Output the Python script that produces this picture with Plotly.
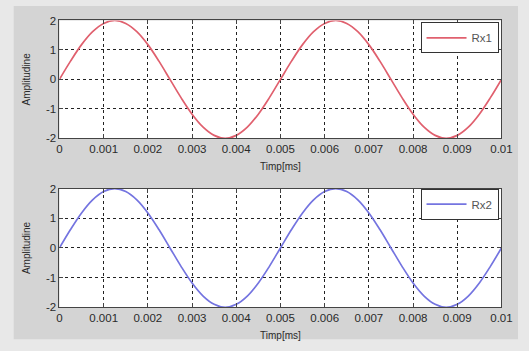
import plotly.graph_objects as go

# time samples [ms] and amplitudes
t = [i * 0.00025 for i in range(41)]
rx1 = [0, 0.62, 1.18, 1.62, 1.9, 2, 1.9, 1.62, 1.18, 0.62,
       0, -0.62, -1.18, -1.62, -1.9, -2, -1.9, -1.62, -1.18, -0.62,
       0, 0.62, 1.18, 1.62, 1.9, 2, 1.9, 1.62, 1.18, 0.62,
       0, -0.62, -1.18, -1.62, -1.9, -2, -1.9, -1.62, -1.18, -0.62, 0]
rx2 = [0, 0.62, 1.18, 1.62, 1.9, 2, 1.9, 1.62, 1.18, 0.62,
       0, -0.62, -1.18, -1.62, -1.9, -2, -1.9, -1.62, -1.18, -0.62,
       0, 0.62, 1.18, 1.62, 1.9, 2, 1.9, 1.62, 1.18, 0.62,
       0, -0.62, -1.18, -1.62, -1.9, -2, -1.9, -1.62, -1.18, -0.62, 0]
xticks = [0, 0.001, 0.002, 0.003, 0.004, 0.005, 0.006, 0.007, 0.008, 0.009, 0.01]
xticklabels = ["0", "0.001", "0.002", "0.003", "0.004", "0.005", "0.006", "0.007", "0.008", "0.009", "0.01"]
yticks = [-2, -1, 0, 1, 2]
yticklabels = ["-2", "-1", "0", "1", "2"]

W, H = 529, 351
fig = go.Figure()
fig.add_trace(go.Scatter(x=t, y=rx1, mode="lines", name="Rx1", line=dict(color="#e0606e", width=1.7, shape="spline"),
                         xaxis="x", yaxis="y", legend="legend", showlegend=True))
fig.add_trace(go.Scatter(x=t, y=rx2, mode="lines", name="Rx2", line=dict(color="#7474e0", width=1.7, shape="spline"),
                         xaxis="x2", yaxis="y2", legend="legend2", showlegend=True))

fam = "Liberation Sans, Arial, sans-serif"
tickfont = dict(family=fam, size=11.5, color="#2a2a2a")
titlefont = dict(family=fam, size=10, color="#2a2a2a")
xd = [58 / W, 512 / W]
yd1 = [1 - 137 / H, 1 - 15 / H]
yd2 = [1 - 312 / H, 1 - 189 / H]
def xa(anchor):
    return dict(domain=xd, anchor=anchor, range=[0, 0.01], tickvals=xticks, ticktext=xticklabels,
                showgrid=True, gridcolor="#222222", griddash="dot", gridwidth=1,
                showline=True, linecolor="#444444", linewidth=1, mirror="ticks",
                ticks="inside", ticklen=4, tickcolor="#444444", zeroline=False,
                tickfont=tickfont,
                title=dict(text="Timp[ms]", font=titlefont, standoff=8))
def ya(anchor, dom):
    return dict(domain=dom, anchor=anchor, range=[-2, 2], tickvals=yticks, ticktext=yticklabels,
                showgrid=True, gridcolor="#222222", griddash="dot", gridwidth=1,
                showline=True, linecolor="#444444", linewidth=1, mirror="ticks",
                ticks="inside", ticklen=4, tickcolor="#444444", zeroline=False,
                tickfont=tickfont,
                title=dict(text="Amplitudine", font=titlefont, standoff=13))

leg = dict(bgcolor="white", bordercolor="#333333", borderwidth=1, xanchor="right", yanchor="top",
           font=dict(family=fam, size=11.5, color="#555555"), itemwidth=40,
           tracegroupgap=0)
shapes = [dict(type="rect", xref="paper", yref="paper", x0=11 / W, x1=1, y0=1 - 345 / H, y1=1,
               fillcolor="#d4d4d4", line=dict(width=0), layer="below")]
for yd in (yd1, yd2):
    shapes.append(dict(type="rect", xref="paper", yref="paper", x0=xd[0], x1=xd[1], y0=yd[0], y1=yd[1],
                       fillcolor="white", line=dict(width=0), layer="below"))
fig.update_layout(
    width=W, height=H, margin=dict(l=0, r=0, t=0, b=0), showlegend=True,
    paper_bgcolor="#e8e8e8", plot_bgcolor="white", font=dict(family=fam, size=11, color="#2a2a2a"),
    xaxis=xa("y"), yaxis=ya("x", yd1),
    xaxis2=xa("y2"), yaxis2=ya("x2", yd2),
    legend=dict(leg, x=509 / W, y=1 - 17 / H),
    legend2=dict(leg, x=509 / W, y=1 - 189 / H),
    shapes=shapes,
)
fig.write_html("out.html")
